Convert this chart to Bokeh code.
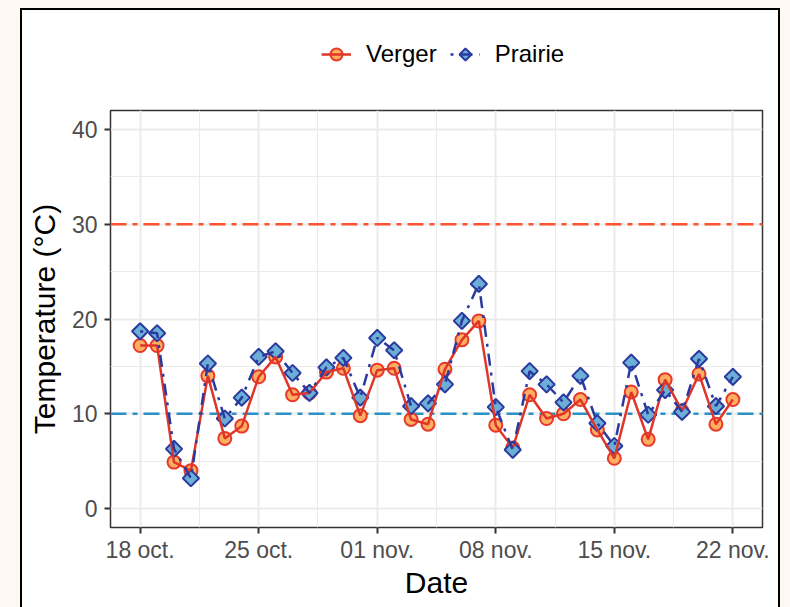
import numpy as np
import pandas as pd
from bokeh.plotting import figure
from bokeh.models import Range1d, FixedTicker, Span, Legend, LegendItem, Spacer
from bokeh.layouts import row, column
from bokeh.embed import file_html
from bokeh.resources import INLINE

# ---- data ----
dates = pd.date_range("2023-10-18", "2023-11-22", freq="D")
verger = [17.2, 17.2, 4.9, 4.0, 14.0, 7.4, 8.7, 13.9, 16.0, 12.0, 12.2, 14.4,
          14.8, 9.8, 14.6, 14.8, 9.4, 8.9, 14.7, 17.8, 19.8, 8.8, 6.4, 12.0,
          9.5, 10.0, 11.5, 8.3, 5.3, 12.3, 7.3, 13.6, 10.3, 14.2, 8.9, 11.5]
prairie = [18.7, 18.5, 6.3, 3.2, 15.3, 9.5, 11.7, 16.0, 16.6, 14.3, 12.2, 14.9,
           15.9, 11.7, 18.0, 16.7, 10.8, 11.1, 13.1, 19.8, 23.7, 10.7, 6.2, 14.5,
           13.1, 11.2, 14.0, 9.0, 6.6, 15.4, 9.9, 12.5, 10.2, 15.8, 10.8, 13.9]
series_names = ["Verger", "Prairie"]
x_tick_dates = ["2023-10-18", "2023-10-25", "2023-11-01", "2023-11-08", "2023-11-15", "2023-11-22"]
x_tick_labels = ["18 oct.", "25 oct.", "01 nov.", "08 nov.", "15 nov.", "22 nov."]
y_ticks = [0, 10, 20, 30, 40]
y_minor = [5, 15, 25, 35]
seuil_haut = 30
seuil_bas = 10

FONT = "Liberation Sans"
CREAM = "#FDF8F1"
RED = "#E0362A"
ORANGE = "#FDAE61"
NAVY = "#2B3A9E"
SKY = "#6BAED6"

def ms(d):
    return float(pd.Timestamp(d).value // 10**6)

x_major = [ms(d) for d in x_tick_dates]
x_minor = [(a + b) / 2 for a, b in zip(x_major[:-1], x_major[1:])]
x0, x1 = ms(dates[0]), ms(dates[-1])
pad = (x1 - x0) * 0.05

circle_style = dict(marker="circle", size=13, fill_color=ORANGE, line_color="#E8392A", line_width=2)
diamond_style = dict(marker="square", angle=np.pi / 4, size=11.5, fill_color=SKY,
                     line_color=NAVY, line_width=2)
vline_style = dict(line_color=RED, line_width=2.5)
pline_style = dict(line_color=NAVY, line_width=2.5, line_dash="3 7 12 7")

# ---------------- main panel ----------------
p = figure(width=756, height=499, x_axis_type="datetime",
           output_backend="svg", toolbar_location=None,
           x_range=Range1d(x0 - pad, x1 + pad), y_range=Range1d(-2, 42),
           min_border_left=88, min_border_right=16, min_border_top=2,
           min_border_bottom=80)
p.background_fill_color = "white"
p.border_fill_color = "white"
p.outline_line_color = "#333333"
p.outline_line_width = 1.5

p.xaxis.ticker = FixedTicker(ticks=x_major, minor_ticks=x_minor)
p.xaxis.major_label_overrides = {t: l for t, l in zip(x_major, x_tick_labels)}
p.yaxis.ticker = FixedTicker(ticks=y_ticks, minor_ticks=y_minor)

for ax in (p.xaxis[0], p.yaxis[0]):
    ax.axis_line_color = None
    ax.major_tick_line_color = "#333333"
    ax.major_tick_line_width = 2
    ax.major_tick_out = 6
    ax.major_tick_in = 0
    ax.minor_tick_line_color = None
    ax.major_label_text_font = FONT
    ax.major_label_text_font_size = "23px"
    ax.major_label_text_color = "#4D4D4D"
    ax.axis_label_text_font = FONT
    ax.axis_label_text_font_size = "30px"
    ax.axis_label_text_font_style = "normal"
    ax.axis_label_text_color = "black"
p.xaxis.axis_label = "Date"
p.yaxis.axis_label = "Temperature (°C)"
p.xaxis.major_label_standoff = 3
p.yaxis.major_label_standoff = 7
p.xaxis.axis_label_standoff = 0
p.yaxis.axis_label_standoff = 8

for g in (p.xgrid[0], p.ygrid[0]):
    g.grid_line_color = "#EBEBEB"
    g.grid_line_width = 2
    g.minor_grid_line_color = "#EBEBEB"
    g.minor_grid_line_width = 1

p.add_layout(Span(location=seuil_haut, dimension="width", line_color="#FC5430",
                  line_width=2.5, line_dash="16 6 5 6", level="underlay"))
p.add_layout(Span(location=seuil_bas, dimension="width", line_color="#2A92C6",
                  line_width=2.5, line_dash="16 6 5 6", level="underlay"))

p.scatter(dates, verger, **circle_style)
p.scatter(dates, prairie, **diamond_style)
p.line(dates, verger, **vline_style)
p.line(dates, prairie, **pline_style)

# ---------------- legend strip ----------------
lf = figure(width=756, height=98, output_backend="svg", toolbar_location=None,
            x_axis_location=None, y_axis_location=None,
            min_border_left=0, min_border_right=0, min_border_top=0, min_border_bottom=0)
lf.outline_line_color = None
lf.grid.visible = False
lf.background_fill_color = "white"
lf.border_fill_color = "white"
kv = lf.scatter(dates, verger, visible=False, **circle_style)
kvl = lf.line(dates, verger, visible=False, **vline_style)
if hasattr(lf, "ngon"):
    kp = lf.ngon(x=dates, y=prairie, radius=8, radius_units="screen", n=4,
                 fill_color=SKY, line_color=NAVY, line_width=2, visible=False)
else:
    kp = lf.scatter(dates, prairie, marker="diamond", size=12, fill_color=SKY,
                    line_color=NAVY, line_width=2, visible=False)
kpl = lf.line(dates, prairie, visible=False, **pline_style)

legend = Legend(items=[LegendItem(label=series_names[0], renderers=[kv, kvl]),
                       LegendItem(label=series_names[1], renderers=[kp, kpl])],
                orientation="horizontal", location=(211, 38),
                glyph_width=30, glyph_height=32, label_height=32,
                label_standoff=15, spacing=13, padding=0, margin=0,
                background_fill_alpha=0, border_line_alpha=0,
                inactive_fill_alpha=0,
                label_text_font=FONT, label_text_font_size="24px",
                label_text_color="black")
lf.add_layout(legend)

framed = column(lf, p, spacing=0,
                styles={"border-top": "2px solid black",
                        "border-left": "2px solid black",
                        "border-right": "2px solid black",
                        "background-color": "white"})
body = row(Spacer(width=20, height=599), framed)
layout = column(Spacer(width=790, height=8), body,
                styles={"background-color": CREAM})

open("out.html", "w").write(file_html(layout, INLINE))
